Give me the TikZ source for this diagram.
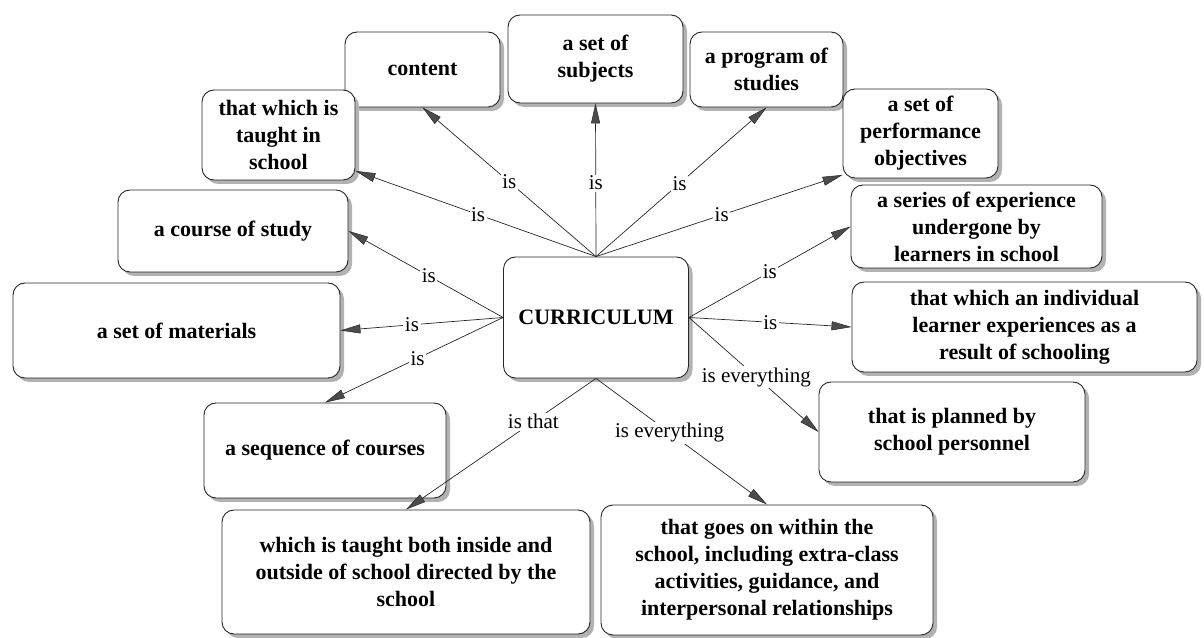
\documentclass[tikz,border=0pt]{standalone}
\usepackage{fontspec}
\setmainfont{Liberation Serif}
\usetikzlibrary{arrows.meta,shadows}
\begin{document}
\begin{tikzpicture}[>={Triangle[length=20bp,width=9bp]},line join=bevel,
  concept/.style={draw=black!85,line width=0.9bp,fill=white,rounded corners=12bp,align=center,
    font=\fontsize{22bp}{27bp}\selectfont\bfseries,inner sep=2bp,
    drop shadow={shadow xshift=4bp,shadow yshift=-4bp,fill=black!30,opacity=1}},
  linkword/.style={fill=white,text=black,inner sep=1.5bp,font=\fontsize{21bp}{24bp}\selectfont},
  link/.style={black!85,line width=0.7bp,->,
    arrows={-{Triangle[length=20bp,width=9bp,fill=black!70,line width=0.5bp]}}},
]
\useasboundingbox (0bp,0bp) rectangle (1204bp,638bp);
%%
\node (node_curriculum) at (596bp,320.5bp) [concept,minimum width=185bp,minimum height=121bp] {CURRICULUM};
  \node (node_content) at (422.5bp,568.5bp) [concept,minimum width=155bp,minimum height=75bp] {content};
  \node (node_subjects) at (595.5bp,579bp) [concept,minimum width=175bp,minimum height=88bp] {a set of\\subjects};
  \node (node_program) at (766.5bp,568.5bp) [concept,minimum width=153bp,minimum height=75bp] {a program of\\studies};
  \node (node_objectives) at (920.5bp,504.5bp) [concept,minimum width=155bp,minimum height=89bp] {a set of\\performance\\objectives};
  \node (node_series) at (976.5bp,411.5bp) [concept,minimum width=251bp,minimum height=83bp] {a series of experience\\undergone by\\learners in school};
  \node (node_learner) at (1024.5bp,311bp) [concept,minimum width=345bp,minimum height=90bp] {that which an individual\\learner experiences as a\\result of schooling};
  \node (node_planned) at (952bp,206bp) [concept,minimum width=266bp,minimum height=100bp] {that is planned by\\school personnel};
  \node (node_within) at (767bp,68bp) [concept,minimum width=332bp,minimum height=130bp] {that goes on within the\\school, including extra-class\\activities, guidance, and\\interpersonal relationships};
  \node (node_outside) at (406bp,66bp) [concept,minimum width=368bp,minimum height=124bp] {which is taught both inside and\\outside of school directed by the\\school};
  \node (node_sequence) at (325bp,187.5bp) [concept,minimum width=242bp,minimum height=95bp] {a sequence of courses};
  \node (node_materials) at (176.5bp,307.5bp) [concept,minimum width=327bp,minimum height=95bp] {a set of materials};
  \node (node_course) at (233bp,407bp) [concept,minimum width=230bp,minimum height=82bp] {a course of study};
  \node (node_taught) at (278.5bp,503bp) [concept,minimum width=153bp,minimum height=90bp] {that which is\\taught in\\school};
%
  \draw [link] (node_curriculum.north) -- node[linkword,pos=0.5] {is} (node_content.south);
  \draw [link] (node_curriculum.north) -- node[linkword,pos=0.48] {is} (node_subjects.south);
  \draw [link] (node_curriculum.north) -- node[linkword,pos=0.49] {is} (node_program.south);
  \draw [link] (node_curriculum.north) -- node[linkword,pos=0.51] {is} (node_objectives.208);
  \draw [link] (node_curriculum.north) -- node[linkword,pos=0.49] {is} (node_taught.335);
  \draw [link] (node_curriculum.west) -- node[linkword,pos=0.48] {is} (node_course.east);
  \draw [link] (node_curriculum.west) -- node[linkword,pos=0.56] {is} (node_materials.east);
  \draw [link] (node_curriculum.west) -- node[linkword,pos=0.48] {is} (node_sequence.north);
  \draw [link] (node_curriculum.east) -- node[linkword,pos=0.5] {is} (node_series.west);
  \draw [link] (node_curriculum.east) -- node[linkword,pos=0.5] {is} (node_learner.west);
  \draw [link] (node_curriculum.east) -- node[linkword,pos=0.52] {is everything} (node_planned.west);
  \draw [link] (node_curriculum.south) -- node[linkword,pos=0.43] {is everything} (node_within.north);
  \draw [link] (node_curriculum.south) -- node[linkword,pos=0.33] {is that} (node_outside.north);
%
\end{tikzpicture}
\end{document}
